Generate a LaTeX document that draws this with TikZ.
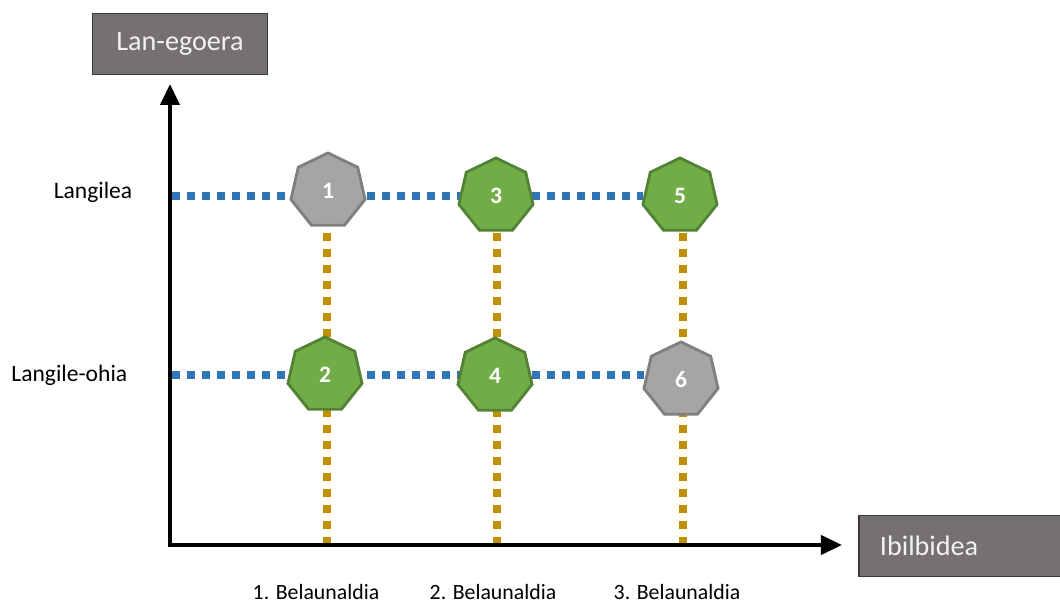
\documentclass[tikz,border=0pt]{standalone}
\usepackage{fontspec}
\setmainfont{Carlito}
\usepackage{xcolor}
\usetikzlibrary{shapes.geometric,arrows.meta,positioning,backgrounds}

\definecolor{boxgray}{HTML}{767171}
\definecolor{boxedge}{HTML}{3B3838}
\definecolor{hepgreen}{HTML}{70AD47}
\definecolor{hepgreenedge}{HTML}{548235}
\definecolor{hepgray}{HTML}{A5A5A5}
\definecolor{hepgrayedge}{HTML}{7F7F7F}
\definecolor{rowblue}{HTML}{2E75B6}
\definecolor{colgold}{HTML}{BF9000}

\begin{document}
\begin{tikzpicture}[
    x=0.01cm, y=-0.01cm,
    axisbox/.style={rectangle, draw=boxedge, fill=boxgray, line width=0.5pt, minimum width=1.75cm, minimum height=0.61cm, text=white!95!black, font=\fontsize{8}{9}\selectfont},
    hep/.style={regular polygon, regular polygon sides=7, minimum size=0.76cm, inner sep=0pt, line width=0.8pt, text=white, font=\fontsize{6.7}{8}\selectfont\bfseries},
    green hep/.style={hep, draw=hepgreenedge, fill=hepgreen},
    gray hep/.style={hep, draw=hepgrayedge, fill=hepgray},
    rowline/.style={draw=rowblue, line width=0.075cm, dash pattern=on 0.08cm off 0.07cm},
    colline/.style={draw=colgold, line width=0.075cm, dash pattern=on 0.08cm off 0.08cm},
    axis/.style={line width=0.04cm, line join=miter, {Triangle[length=0.21cm,width=0.19cm]}-{Triangle[length=0.21cm,width=0.19cm]}},
    rowlabel/.style={font=\fontsize{6.7}{8}\selectfont, inner sep=0pt},
    genlabel/.style={font=\fontsize{6.2}{7}\selectfont, inner sep=0pt}
]
    \useasboundingbox (0,0) rectangle (1060,601);

    % Axes
    \coordinate (o) at (170,545);
    \coordinate (ytip) at (170,84);
    \coordinate (xtip) at (842,545);
    \draw[axis] (ytip) -- (o) -- (xtip);

    \node[axisbox] (status) at (180,44) {Lan-egoera};
    \node[axisbox, minimum width=2.02cm, text width=1.6cm, align=left] (path) at (960,546) {Ibilbidea};

    % Rows
    \coordinate (r1) at (172,196);
    \coordinate (r2) at (172,375);
    \node[rowlabel, left=0.39cm of r1, yshift=0.04cm] (worker) {Langilea};
    \node[rowlabel, left=0.44cm of r2] (nonworker) {Langile-ohia};

    % Heptagons
    \node[gray hep]  (h1) at (328,191) {1};
    \node[green hep] (h3) at (496,196) {3};
    \node[green hep] (h5) at (680,196) {5};
    \node[green hep] (h2) at (325,375) {2};
    \node[green hep] (h4) at (495,376) {4};
    \node[gray hep]  (h6) at (681,380) {6};

    % Columns
    \coordinate (g1) at (327,545);
    \coordinate (g2) at (497,545);
    \coordinate (g3) at (683,545);
    \node[genlabel] (gen1) at (316,592) {1. Belaunaldia};
    \node[genlabel] (gen2) at (493,592) {2. Belaunaldia};
    \node[genlabel] (gen3) at (677,592) {3. Belaunaldia};

    % Dotted links
    \begin{scope}[on background layer]
    \draw[rowline] (r1) -- (r1 -| h5.west);
    \draw[rowline] (r2) -- (r2 -| h6.west);
    \draw[colline] (g1) -- (g1 |- h1.south);
    \draw[colline] (g2) -- (g2 |- h3.south);
    \draw[colline] (g3) -- (g3 |- h5.south);
    \end{scope}
\end{tikzpicture}
\end{document}
